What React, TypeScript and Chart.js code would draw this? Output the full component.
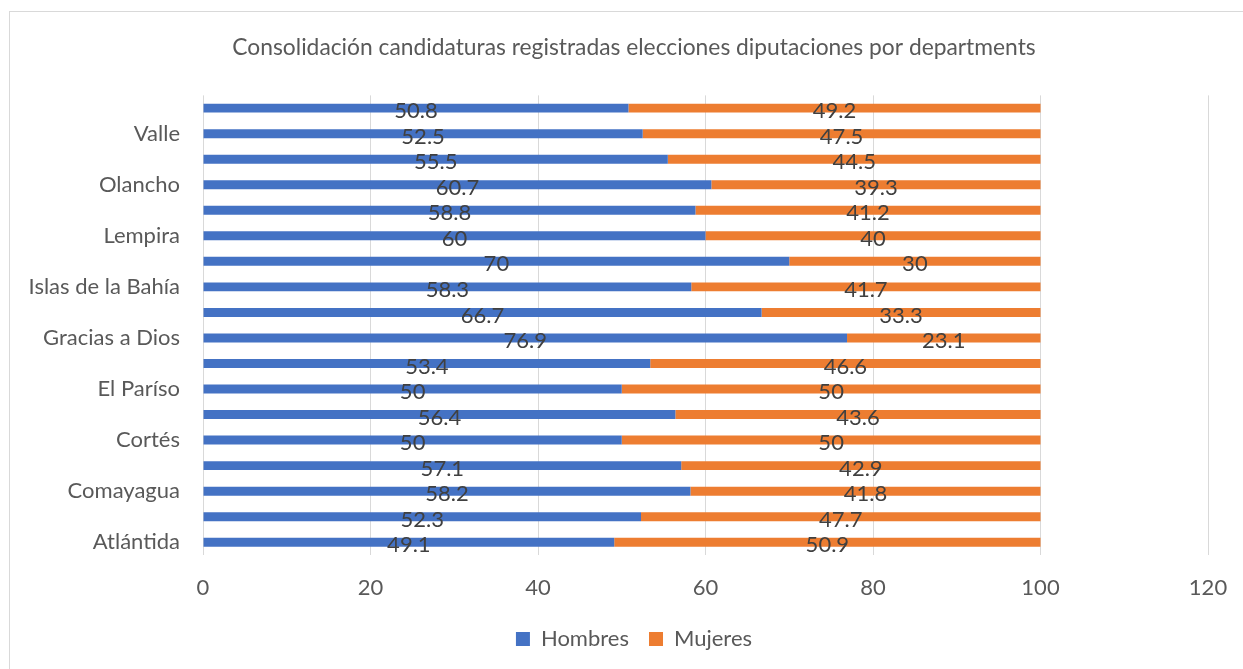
import React, { useEffect, useRef } from "react";
import { Chart, registerables } from "chart.js";

Chart.register(...registerables);

const title = "Consolidación candidaturas registradas elecciones diputaciones por departments";

const departments = [
  "Atlántida",
  "Colón",
  "Comayagua",
  "Copán",
  "Cortés",
  "Choluteca",
  "El Paríso",
  "Francisco Morazán",
  "Gracias a Dios",
  "Intibucá",
  "Islas de la Bahía",
  "La Paz",
  "Lempira",
  "Ocotepeque",
  "Olancho",
  "Santa Bárbara",
  "Valle",
  "Yoro",
];

const hombres = [49.1, 52.3, 58.2, 57.1, 50, 56.4, 50, 53.4, 76.9, 66.7, 58.3, 70, 60, 58.8, 60.7, 55.5, 52.5, 50.8];
const mujeres = [50.9, 47.7, 41.8, 42.9, 50, 43.6, 50, 46.6, 23.1, 33.3, 41.7, 30, 40, 41.2, 39.3, 44.5, 47.5, 49.2];

const xTicks = [0, 20, 40, 60, 80, 100, 120];

const FONT = "Lato, 'Open Sans', sans-serif";

const labelPlugin = {
  id: "segLabels",
  afterDatasetsDraw(chart: any) {
    const ctx = chart.ctx;
    ctx.save();
    ctx.font = `22px ${FONT}`;
    ctx.fillStyle = "#404040";
    ctx.textAlign = "center";
    ctx.textBaseline = "middle";
    chart.data.datasets.forEach((ds: any, di: number) => {
      const meta = chart.getDatasetMeta(di);
      meta.data.forEach((bar: any, i: number) => {
        const v = ds.data[i];
        const cx = (bar.x + bar.base) / 2;
        ctx.fillText(String(v), cx, bar.y + 3);
      });
    });
    ctx.restore();
  },
};

export default function App() {
  const ref = useRef<HTMLCanvasElement>(null);
  useEffect(() => {
    const chart = new Chart(ref.current!, {
      type: "bar",
      data: {
        labels: departments,
        datasets: [
          { label: "Hombres", data: hombres, backgroundColor: "#4472C4", barPercentage: 0.7, categoryPercentage: 0.5 },
          { label: "Mujeres", data: mujeres, backgroundColor: "#ED7D31", barPercentage: 0.7, categoryPercentage: 0.5 },
        ],
      },
      options: {
        indexAxis: "y",
        animation: false,
        responsive: false,
        layout: { padding: { left: 0, right: 0, top: 0, bottom: 10 } },
        plugins: {
          title: {
            display: true,
            text: title,
            color: "#595959",
            font: { family: FONT, size: 22.8, weight: "normal" },
            padding: { top: 22, bottom: 34 },
          },
          legend: {
            position: "bottom",
            labels: {
              color: "#595959",
              font: { family: FONT, size: 22 },
              boxWidth: 14,
              boxHeight: 14,
              padding: 20,
            },
          },
          tooltip: { enabled: false },
        },
        scales: {
          x: {
            stacked: true,
            min: 0,
            max: 120,
            afterBuildTicks(scale: any) {
              scale.ticks = xTicks.map((v) => ({ value: v }));
            },
            ticks: { color: "#595959", font: { family: FONT, size: 22 }, padding: 20 },
            grid: { color: "#D9D9D9", drawTicks: false, lineWidth: 1 },
            border: { display: false },
            afterFit(scale: any) {
              scale.height = 53;
              scale.paddingLeft = 0;
              scale.paddingRight = 50;
            },
          },
          y: {
            stacked: true,
            reverse: true,
            ticks: {
              color: "#595959",
              font: { family: FONT, size: 22 },
              padding: 23,
              autoSkip: false,
              callback: (_v: any, i: number) => (i % 2 === 0 ? departments[i] : ""),
            },
            grid: { display: false, drawTicks: false },
            border: { display: false },
            afterFit(scale: any) {
              scale.width = 193;
              scale.paddingTop = 0;
              scale.paddingBottom = 0;
            },
          },
        },
      },
      plugins: [labelPlugin],
    });
    return () => chart.destroy();
  }, []);
  return (
    <div
      style={{
        position: "fixed",
        left: 0,
        top: 0,
        width: 1243,
        height: 669,
        overflow: "hidden",
        background: "#fff",
      }}
    >
      <div
        style={{
          position: "absolute",
          left: 9,
          top: 11,
          width: 1248,
          height: 670,
          border: "1px solid #D9D9D9",
          background: "#fff",
        }}
      >
        <canvas ref={ref} width={1248} height={658} style={{ display: "block" }} />
      </div>
    </div>
  );
}
